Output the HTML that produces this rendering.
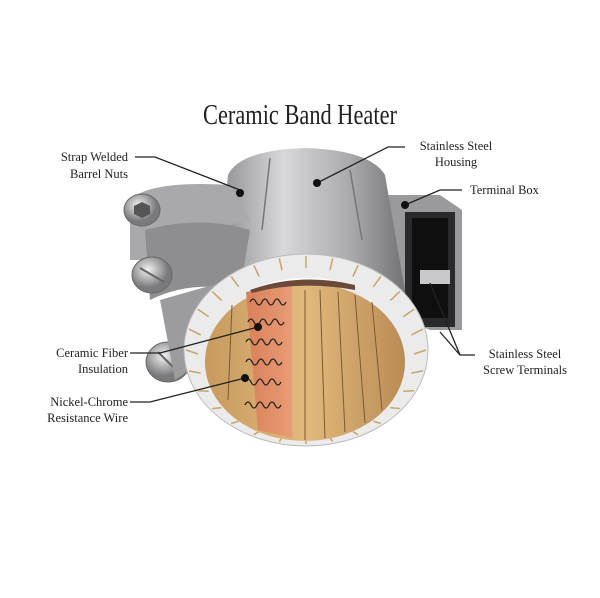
<!DOCTYPE html>
<html><head><meta charset="utf-8"><style>
body{margin:0;background:#fff}
svg{display:block}
text{font-family:"Liberation Serif",serif;fill:#222}
.l{font-size:12.5px}
</style></head><body>
<svg width="600" height="598" viewBox="0 0 600 598">
<defs>
<linearGradient id="body" x1="0" x2="1"><stop offset="0" stop-color="#8a8a8c"/><stop offset=".35" stop-color="#d8d8da"/><stop offset=".7" stop-color="#a9a9ab"/><stop offset="1" stop-color="#6e6e70"/></linearGradient>
<linearGradient id="tan" x1="0" x2="1"><stop offset="0" stop-color="#c79a5e"/><stop offset=".5" stop-color="#e2b97c"/><stop offset="1" stop-color="#b98c55"/></linearGradient>
<linearGradient id="cop" x1="0" x2="1"><stop offset="0" stop-color="#d9805a"/><stop offset="1" stop-color="#e89c75"/></linearGradient>
<radialGradient id="met" cx=".4" cy=".35"><stop offset="0" stop-color="#f2f2f2"/><stop offset="1" stop-color="#7a7a7c"/></radialGradient>
</defs>
<text x="300" y="124" text-anchor="middle" font-size="28" transform="translate(300 0) scale(0.8 1) translate(-300 0)">Ceramic Band Heater</text>
<!-- terminal box -->
<path d="M378 195 L440 195 L462 210 L462 330 L430 330 L405 320 Z" fill="#9a9a9c"/>
<rect x="405" y="212" width="50" height="115" fill="#2a2a2c"/>
<rect x="412" y="218" width="36" height="100" fill="#0f0f10"/>
<rect x="420" y="270" width="30" height="14" fill="#c9c9cb"/>
<!-- main cylinder -->
<path d="M215 320 L228 175 Q240 150 305 148 Q370 150 385 175 L410 320 Z" fill="url(#body)"/>
<line x1="270" y1="158" x2="262" y2="230" stroke="#777" stroke-width="1.5"/>
<line x1="350" y1="170" x2="362" y2="240" stroke="#777" stroke-width="1.5"/>
<!-- left clamp -->
<path d="M130 200 Q150 180 230 185 L250 220 Q200 230 160 260 L130 260 Z" fill="#a9a9ab"/>
<path d="M145 230 Q200 215 250 230 L240 290 Q190 280 150 300 Z" fill="#8e8e90"/>
<ellipse cx="142" cy="210" rx="18" ry="16" fill="url(#met)" stroke="#666"/>
<polygon points="142,202 150,206 150,214 142,218 134,214 134,206" fill="#555"/>
<ellipse cx="152" cy="275" rx="20" ry="18" fill="url(#met)" stroke="#666"/>
<line x1="140" y1="268" x2="164" y2="282" stroke="#666" stroke-width="2"/>
<ellipse cx="168" cy="362" rx="22" ry="20" fill="url(#met)" stroke="#666"/>
<line x1="158" y1="352" x2="178" y2="372" stroke="#666" stroke-width="2"/>
<path d="M160 300 L230 280 L225 345 L175 380 Z" fill="#9c9c9e"/>
<!-- ring -->
<ellipse cx="306" cy="350" rx="122" ry="96" fill="#ebebeb" stroke="#bbb"/>
<g id="ticks" stroke="#c9a46a" stroke-width="1.5"></g>
<ellipse cx="305" cy="362" rx="100" ry="79" fill="url(#tan)"/>
<path d="M246 292 L292 285 L292 438 L258 430 Z" fill="url(#cop)"/>
<g stroke="#7a5a35" stroke-width="1">
<line x1="305" y1="290" x2="305" y2="440"/><line x1="320" y1="290" x2="325" y2="438"/><line x1="338" y1="292" x2="345" y2="432"/><line x1="355" y1="295" x2="365" y2="423"/><line x1="372" y1="302" x2="382" y2="410"/><line x1="232" y1="305" x2="228" y2="400"/>
</g>
<g fill="none" stroke="#222" stroke-width="1.3">
<path d="M250 302 q3 -6 6 0 q3 6 6 0 q3 -6 6 0 q3 6 6 0 q3 -6 6 0 q3 6 6 0"/>
<path d="M248 322 q3 -6 6 0 q3 6 6 0 q3 -6 6 0 q3 6 6 0 q3 -6 6 0 q3 6 6 0"/>
<path d="M246 342 q3 -6 6 0 q3 6 6 0 q3 -6 6 0 q3 6 6 0 q3 -6 6 0 q3 6 6 0"/>
<path d="M246 362 q3 -6 6 0 q3 6 6 0 q3 -6 6 0 q3 6 6 0 q3 -6 6 0 q3 6 6 0"/>
<path d="M245 382 q3 -6 6 0 q3 6 6 0 q3 -6 6 0 q3 6 6 0 q3 -6 6 0 q3 6 6 0"/>
<path d="M245 405 q3 -6 6 0 q3 6 6 0 q3 -6 6 0 q3 6 6 0 q3 -6 6 0 q3 6 6 0"/>
</g>
<path d="M250 290 Q300 268 358 286 Q300 276 250 290 Z" fill="#fff"/>
<path d="M250 290 Q300 272 355 285 L355 290 Q300 280 252 293 Z" fill="#6b4a3a"/>
<!-- leader lines -->
<g stroke="#222" stroke-width="1.3" fill="none">
<path d="M135 157 L155 157 L240 190"/>
<path d="M405 147 L388 147 L317 183"/>
<path d="M462 190 L440 190 L405 205"/>
<path d="M130 353 L160 353 L258 327"/>
<path d="M130 402 L150 402 L245 378"/>
<path d="M475 355 L460 355 L430 283"/>
<path d="M460 355 L440 332"/>
</g>
<g fill="#111"><circle cx="240" cy="193" r="4"/><circle cx="317" cy="183" r="4"/><circle cx="405" cy="205" r="4"/><circle cx="258" cy="327" r="4"/><circle cx="245" cy="378" r="4"/></g>
<text class="l" x="128" y="161" text-anchor="end">Strap Welded</text>
<text class="l" x="128" y="178" text-anchor="end">Barrel Nuts</text>
<text class="l" x="456" y="150" text-anchor="middle">Stainless Steel</text>
<text class="l" x="456" y="166" text-anchor="middle">Housing</text>
<text class="l" x="470" y="194">Terminal Box</text>
<text class="l" x="128" y="357" text-anchor="end">Ceramic Fiber</text>
<text class="l" x="128" y="373" text-anchor="end">Insulation</text>
<text class="l" x="128" y="406" text-anchor="end">Nickel-Chrome</text>
<text class="l" x="128" y="422" text-anchor="end">Resistance Wire</text>
<text class="l" x="525" y="358" text-anchor="middle">Stainless Steel</text>
<text class="l" x="525" y="374" text-anchor="middle">Screw Terminals</text>
</svg>
<script>
var g=document.getElementById('ticks'),s='';
for(var i=0;i<28;i++){var a=i/28*2*Math.PI;
var x1=306+120*Math.cos(a),y1=350+94*Math.sin(a),x2=306+108*Math.cos(a),y2=354+86*Math.sin(a);
s+='<line x1="'+x1.toFixed(1)+'" y1="'+y1.toFixed(1)+'" x2="'+x2.toFixed(1)+'" y2="'+y2.toFixed(1)+'"/>';}
g.innerHTML=s;
</script>
</body></html>
